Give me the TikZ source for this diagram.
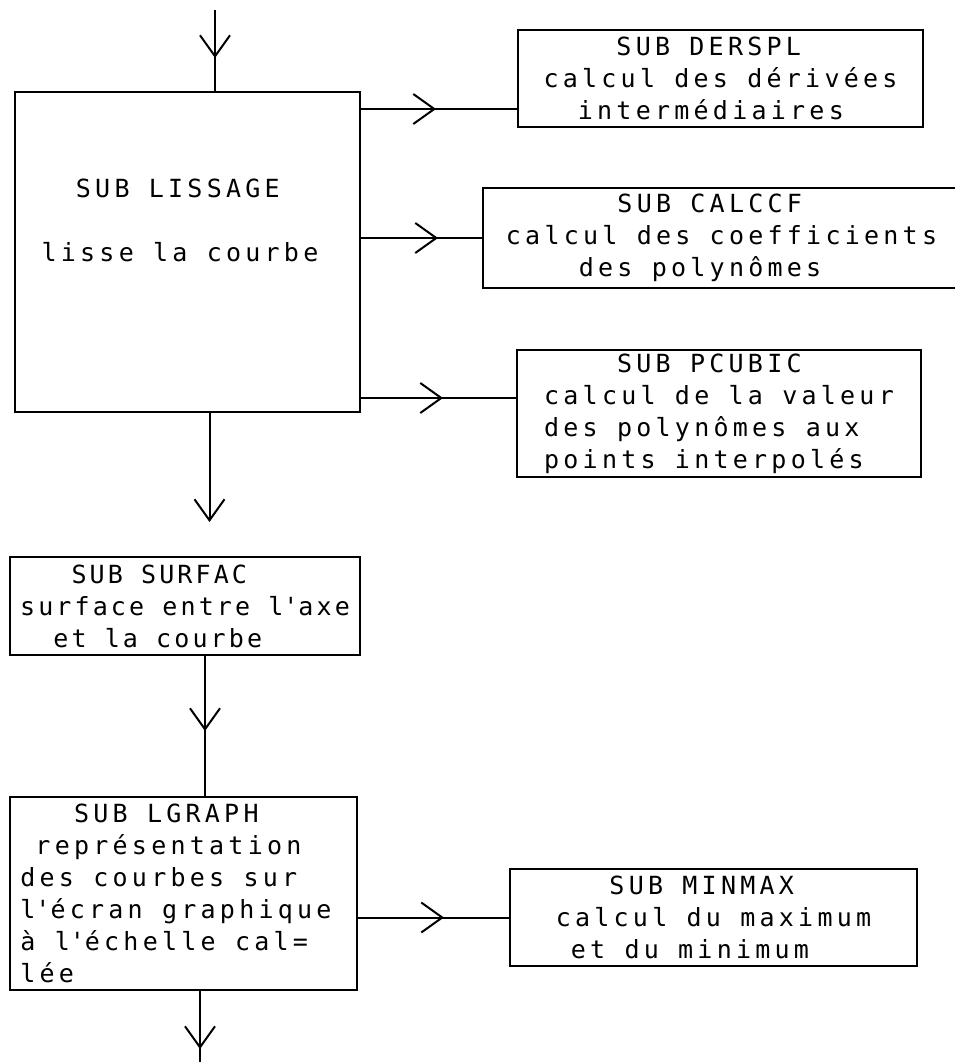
\documentclass[tikz,border=0pt]{standalone}
\usepackage{fontspec}
\usepackage{tikz}
\usetikzlibrary{arrows.meta}
\usetikzlibrary{decorations.markings}
\newfontfamily\printfont[LetterSpace=17]{DejaVu Sans Mono}
\newfontfamily\printnarrow[LetterSpace=12.5]{DejaVu Sans Mono}

\tikzset{
  barb/.tip={Straight Barb[length=21pt,width=30pt,line width=2pt]},
  subbox/.style={draw,line width=2pt,align=left,inner sep=0pt,
    font=\printfont\fontsize{25}{32}\selectfont},
  flow/.style={line width=2pt,postaction={decorate,decoration={markings,
    mark=at position #1 with {\arrow{barb}}}}}
}

\begin{document}
\begin{tikzpicture}[x=1pt,y=-1pt]
\useasboundingbox (0,0) rectangle (954,1062);
% main column
\node[subbox,minimum width=345pt,minimum height=320pt] (lissage) at (187.5,252)
  {\phantom{xx}SUB LISSAGE\\\mbox{}\\lisse la courbe\phantom{x}\\\mbox{}\\\mbox{}};
\node[subbox,minimum width=350pt,minimum height=98pt,
  font=\printnarrow\fontsize{25}{32}\selectfont] (surfac) at (185,606)
  {\phantom{xxx}SUB SURFAC\\surface entre l\textquotesingle axe\\\phantom{xx}et la courbe};
\node[subbox,minimum width=347pt,minimum height=193pt] (lgraph) at (183.5,893.5)
  {\phantom{xxx}SUB LGRAPH\\\phantom{x}représentation\\des courbes sur\\l\textquotesingle écran graphique\phantom{x}\\à l\textquotesingle échelle cal=\\lée};
% called routines
\node[subbox,minimum width=405pt,minimum height=97pt] (derspl) at (720.5,78.5)
  {\phantom{xxxx}SUB DERSPL\\calcul des dérivées\\\phantom{xx}intermédiaires};
\node[subbox,minimum width=477pt,minimum height=100pt] (calccf) at (721.5,238)
  {\phantom{xxxxxx}SUB CALCCF\\calcul des coefficients\\\phantom{xxxx}des polynômes};
\node[subbox,minimum width=404pt,minimum height=127pt] (pcubic) at (719,413.5)
  {\phantom{xxxx}SUB PCUBIC\\calcul de la valeur\\des polynômes aux\\points interpolés};
\node[subbox,minimum width=407pt,minimum height=97pt] (minmax) at (713.5,917.5)
  {\phantom{xxx}SUB MINMAX\\calcul du maximum\\\phantom{x}et du minimum};
\coordinate (in) at (215,10);
\coordinate (out) at (200,1062);
\coordinate (d1) at ([yshift=-30.5pt]derspl.west);
\coordinate (p1) at ([yshift=15.5pt]pcubic.west);
% flow
\draw[flow=48pt] (in) -- (in |- lissage.north);
\draw[flow=75pt] (lissage.east |- d1) -- (d1);
\draw[flow=77pt] (lissage.east |- calccf.west) -- (calccf.west);
\draw[flow=82pt] (lissage.east |- p1) -- (p1);
\draw[line width=2pt,-barb,shorten >=34pt] ([xshift=22pt]lissage.south)
  -- ([xshift=22pt]lissage.south |- surfac.north);
\draw[flow=75pt] ([xshift=20pt]surfac.south) -- ([xshift=20pt]surfac.south |- lgraph.north);
\draw[flow=86pt] (lgraph.east |- minmax.west) -- (minmax.west);
\draw[flow=58pt] (lgraph.south -| out) -- (out);
\end{tikzpicture}
\end{document}
